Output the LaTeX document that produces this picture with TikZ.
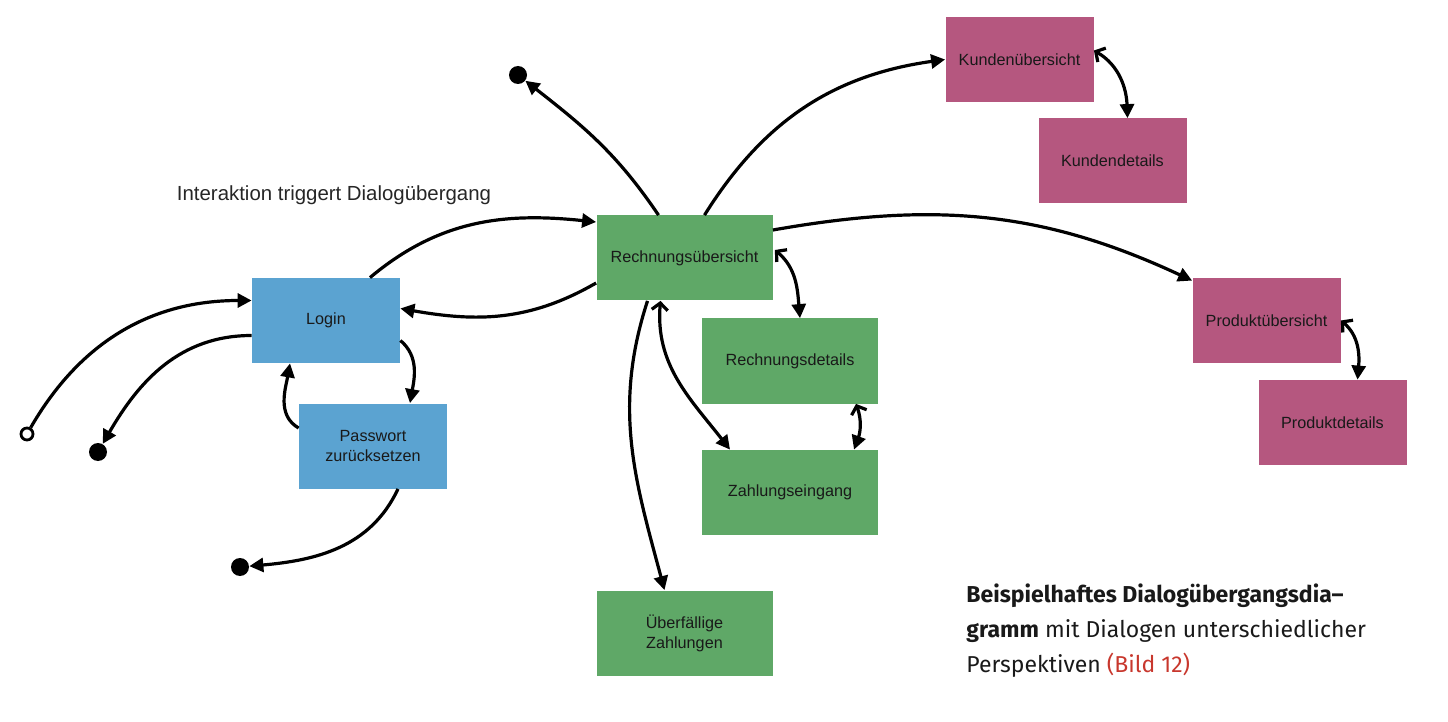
\documentclass[tikz,border=0pt]{standalone}
\usepackage{fontspec}
\setmainfont{Liberation Sans}
\newfontfamily\captionfont{Fira Sans}
\usetikzlibrary{arrows.meta,calc}
\definecolor{blau}{RGB}{91,163,209}
\definecolor{gruen}{RGB}{95,168,103}
\definecolor{rosa}{RGB}{181,87,127}
\definecolor{bildrot}{RGB}{200,55,45}
\tikzset{>={Triangle[length=7pt,width=7pt]}}
\tikzset{
  dialog/.style={minimum height=42.5pt,inner sep=0pt,align=center,text=black!90,font=\fontsize{8.1}{10}\selectfont},
  blaubox/.style={dialog,fill=blau,minimum width=74pt},
  gruenbox/.style={dialog,fill=gruen,minimum width=88pt},
  rosabox/.style={dialog,fill=rosa,minimum width=74pt},
  pfeil/.style={line width=1.6pt},
  zweiweg/.style={pfeil,arrows={Straight Barb[length=3.5pt,width=8pt]-Triangle[length=7pt,width=7pt]}},
  punkt/.style={circle,fill=black,inner sep=0pt,minimum size=9pt},
  startpunkt/.style={circle,draw=black,fill=white,line width=1.4pt,inner sep=0pt,minimum size=6pt}
}

\begin{document}
\begin{tikzpicture}[x=0.5pt,y=0.5pt]
    \useasboundingbox (0,0) rectangle (1448,-722);

    \node[blaubox] (login) at (326,-320.5) {Login};
    \node[blaubox] (pwreset) at (373,-446) {Passwort\\zurücksetzen};
    \node[gruenbox] (rechuebs) at (684.5,-258) {Rechnungsübersicht};
    \node[gruenbox] (rechdet) at (790,-361) {Rechnungsdetails};
    \node[gruenbox] (zahlein) at (790,-492.5) {Zahlungseingang};
    \node[gruenbox] (ueberf) at (684.5,-633) {Überfällige\\Zahlungen};
    \node[rosabox] (kundenuebs) at (1019.5,-59.5) {Kundenübersicht};
    \node[rosabox] (kundendet) at (1112.5,-161) {Kundendetails};
    \node[rosabox] (produebs) at (1266.5,-320.5) {Produktübersicht};
    \node[rosabox] (proddet) at (1332.5,-422.5) {Produktdetails};

    \node[startpunkt] (start) at (27,-434) {};
    \node[punkt] (endeA) at (98,-452) {};
    \node[punkt] (endeB) at (240,-567) {};
    \node[punkt] (endeC) at (518,-75) {};

    \node[font=\fontsize{10.2}{12}\selectfont,text=black!85] (hinweis) at (334,-195) {Interaktion triggert Dialogübergang};

    \draw[pfeil,->] (start) to[out=60,in=180] ($(login.west)+(0,20)$);
    \draw[pfeil,->] ($(login.west)+(0,-15)$) to[out=180,in=60] (endeA);
    \draw[pfeil,->] ($(login.north)+(44,0)$) to[out=40,in=174] ($(rechuebs.west)+(0,36)$);
    \draw[pfeil,->] ($(rechuebs.west)+(0,-25)$) to[out=210,in=-10] ($(login.east)+(0,12)$);
    \draw[pfeil,->] ($(login.east)+(0,-20)$) to[out=-40,in=80] ($(pwreset.north)+(37,0)$);
    \draw[pfeil,->] ($(pwreset.west)+(0,18)$) to[out=150,in=-100] ($(login.south)+(-36,0)$);
    \draw[pfeil,->] ($(pwreset.south)+(25,0)$) to[out=-115,in=5] (endeB);

    \draw[pfeil,->] ($(rechuebs.north)+(-26,0)$) to[out=124,in=-38] (endeC);
    \draw[pfeil,->] ($(rechuebs.north)+(20,0)$) to[out=58,in=188] (kundenuebs.west);
    \draw[pfeil,->] ($(rechuebs.east)+(0,28)$) to[out=10,in=155] ($(produebs.north west)+(0,-3)$);
    \draw[zweiweg] ($(rechuebs.east)+(2,8)$) to[out=-40,in=95] ($(rechdet.north)+(10,0)$);
    \draw[zweiweg] ($(rechuebs.south)+(-24,0)$) to[out=-95,in=128] ($(zahlein.north)+(-60,0)$);
    \draw[pfeil,->] ($(rechuebs.south)+(-37,0)$) to[out=-108,in=105] ($(ueberf.north)+(-20,0)$);
    \draw[zweiweg] ($(rechdet.south)+(66,0)$) to[out=-70,in=70] ($(zahlein.north)+(64,0)$);

    \draw[zweiweg] ($(kundenuebs.east)+(0,9)$) to[out=-30,in=92] ($(kundendet.north)+(15,0)$);
    \draw[zweiweg] (produebs.east) to[out=-40,in=85] ($(proddet.north)+(25,0)$);

    \node[anchor=north west,align=left,inner sep=0pt,text=black!90,
      font=\captionfont\fontsize{11.5}{17.5}\selectfont] (bildtext) at (966,-583)
      {\textbf{Beispielhaftes Dialogübergangsdia–}\\\textbf{gramm} mit Dialogen unterschiedlicher\\Perspektiven \textcolor{bildrot}{(Bild 12)}};
\end{tikzpicture}
\end{document}
